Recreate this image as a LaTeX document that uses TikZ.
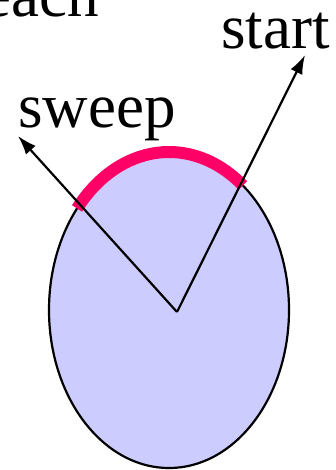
\documentclass[tikz,border=0pt]{standalone}
\usepackage{fontspec}
\setmainfont{Liberation Serif}
\usetikzlibrary{arrows.meta,positioning}
\definecolor{eggfill}{RGB}{204,204,255}
\definecolor{sweeppink}{RGB}{255,0,102}

\begin{document}
\begin{tikzpicture}[
  x=1pt, y=1pt,
  lbl/.style={font=\fontsize{63}{65}\selectfont, inner sep=0pt},
  ray/.style={-{Latex[length=19pt,width=13pt]}, line width=2.2pt},
  sweeparc/.style={draw=sweeppink, line width=12pt}
]
\useasboundingbox (0,0) rectangle (336,470);
\fill[eggfill, draw=black, line width=2.2pt] (169,160) ellipse [x radius=120, y radius=158];
\coordinate (ctr) at (169,160);
\draw[sweeparc] ([shift={(52:120 and 158)}]ctr) arc[start angle=52, end angle=140, x radius=120, y radius=158];
\coordinate (o) at (177,158);
\coordinate (s) at (305,415);
\coordinate (w) at (18,334);
\draw[ray] (o) -- (s);
\draw[ray] (o) -- (w);
\node[lbl, anchor=base west] (start) at (221,421) {start};
\node[lbl, anchor=base west] (sweep) at (18,342) {sweep};
\node[lbl, anchor=base east] (each) at (99,453) {each};
\end{tikzpicture}
\end{document}
